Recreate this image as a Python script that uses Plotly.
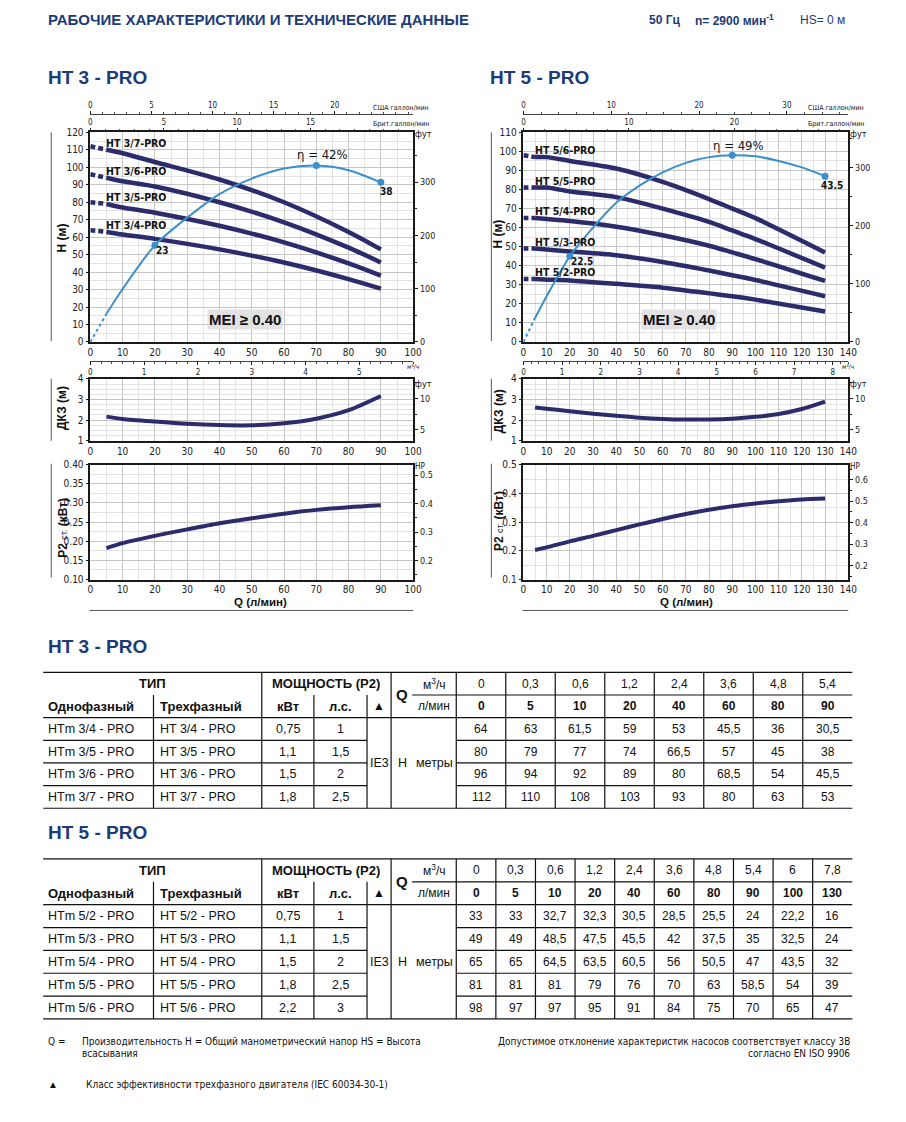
import numpy as np
import plotly.graph_objects as go

# page is rendered with an 8px body margin; small empirical calibration of the capture
OFF = 8
FW, FH = 890, 1104
SX, OX = 0.984, 5.0
SY, OY = 0.991, 4.5
def px(x): return ((x - OX) / SX - OFF) / FW
def py(y): return 1 - ((y - OY) / SY - OFF) / FH

# ---------------- DATA ----------------
Q3 = [0, 5, 10, 20, 40, 60, 80, 90]
Q3_M3H = ["0", "0,3", "0,6", "1,2", "2,4", "3,6", "4,8", "5,4"]
H_HT3_4 = [64, 63, 61.5, 59, 53, 45.5, 36, 30.5]
H_HT3_5 = [80, 79, 77, 74, 66.5, 57, 45, 38]
H_HT3_6 = [96, 94, 92, 89, 80, 68.5, 54, 45.5]
H_HT3_7 = [112, 110, 108, 103, 93, 80, 63, 53]
MODELS3_1PH = ["HTm 3/4 - PRO", "HTm 3/5 - PRO", "HTm 3/6 - PRO", "HTm 3/7 - PRO"]
MODELS3_3PH = ["HT 3/4 - PRO", "HT 3/5 - PRO", "HT 3/6 - PRO", "HT 3/7 - PRO"]
KW3 = ["0,75", "1,1", "1,5", "1,8"]
HP3 = ["1", "1,5", "2", "2,5"]

Q5 = [0, 5, 10, 20, 40, 60, 80, 90, 100, 130]
Q5_M3H = ["0", "0,3", "0,6", "1,2", "2,4", "3,6", "4,8", "5,4", "6", "7,8"]
H_HT5_2 = [33, 33, 32.7, 32.3, 30.5, 28.5, 25.5, 24, 22.2, 16]
H_HT5_3 = [49, 49, 48.5, 47.5, 45.5, 42, 37.5, 35, 32.5, 24]
H_HT5_4 = [65, 65, 64.5, 63.5, 60.5, 56, 50.5, 47, 43.5, 32]
H_HT5_5 = [81, 81, 81, 79, 76, 70, 63, 58.5, 54, 39]
H_HT5_6 = [98, 97, 97, 95, 91, 84, 75, 70, 65, 47]
MODELS5_1PH = ["HTm 5/2 - PRO", "HTm 5/3 - PRO", "HTm 5/4 - PRO", "HTm 5/5 - PRO", "HTm 5/6 - PRO"]
MODELS5_3PH = ["HT 5/2 - PRO", "HT 5/3 - PRO", "HT 5/4 - PRO", "HT 5/5 - PRO", "HT 5/6 - PRO"]
KW5 = ["0,75", "1,1", "1,5", "1,8", "2,2"]
HP5 = ["1", "1,5", "2", "2,5", "3"]

ETA3_Q = [0, 5, 10, 20, 30, 40, 50, 60, 70, 80, 90]
ETA3 = [0, 6.7, 12.6, 23, 29.6, 35.2, 38.9, 41.3, 42, 40.9, 38]
ETA3_MARK_Q = [20, 70, 90]
ETA5_Q = [0, 5, 10, 20, 30, 40, 50, 60, 70, 80, 90, 100, 110, 120, 130]
ETA5 = [0, 6.3, 12, 22.5, 30, 36.5, 41, 44.5, 47, 48.5, 49, 48.7, 47.5, 45.8, 43.5]
ETA5_MARK_Q = [20, 90, 130]

NPSH3_Q = [5, 10, 20, 30, 40, 50, 60, 70, 80, 90]
NPSH3 = [2.17, 2.06, 1.93, 1.82, 1.76, 1.75, 1.85, 2.07, 2.48, 3.17]
P2_3_Q = [5, 10, 20, 30, 40, 50, 60, 70, 80, 90]
P2_3 = [0.182, 0.195, 0.214, 0.231, 0.247, 0.260, 0.272, 0.282, 0.289, 0.294]

NPSH5_Q = [5, 10, 20, 30, 40, 50, 60, 70, 80, 90, 100, 110, 120, 130]
NPSH5 = [2.61, 2.55, 2.43, 2.31, 2.21, 2.12, 2.06, 2.03, 2.03, 2.07, 2.16, 2.30, 2.54, 2.90]
P2_5_Q = [5, 10, 20, 30, 40, 50, 60, 70, 80, 90, 100, 110, 120, 130]
P2_5 = [0.203, 0.212, 0.233, 0.252, 0.272, 0.292, 0.311, 0.328, 0.343, 0.355, 0.365, 0.373, 0.379, 0.382]

# ---------------- STYLE ----------------
NARROW = "Liberation Sans Narrow, DejaVu Sans Condensed, Arial Narrow, sans-serif"
ARIAL = "Liberation Sans, Arial, sans-serif"
NAVY = "#2c2b6c"
BLUE = "#3b8fcb"
AX = "#1a1a1a"
GMAJ = "#c6c6c6"
GMIN = "#e3e3e3"
HEAD = "#1c3b78"
TICKF = dict(family=NARROW, size=10, color="#222")
SMALLF = dict(family=NARROW, size=8, color="#222")

fig = go.Figure()
layout = {}
annotations = []
shapes = []
cnt = {"x": 0, "y": 0}


def newax(kind):
    cnt[kind] += 1
    n = cnt[kind]
    return (kind if n == 1 else f"{kind}{n}"), (f"{kind}axis" if n == 1 else f"{kind}axis{n}")


def dummy(xa, ya, xr, yr):
    fig.add_trace(go.Scatter(x=list(xr), y=list(yr), xaxis=xa, yaxis=ya, mode="markers",
                             marker=dict(opacity=0, size=1), hoverinfo="skip", showlegend=False))


def ann(x, y, text, size=12, family=ARIAL, color="#111", xanchor="center", bold=False, **kw):
    if bold:
        text = f"<b>{text}</b>"
    d = dict(x=px(x), y=py(y), xref="paper", yref="paper", text=text, showarrow=False,
             font=dict(family=family, size=size, color=color), xanchor=xanchor, yanchor="middle")
    d.update(kw)
    annotations.append(d)


def line(x0, y0, x1, y1, color="#111", width=1.2):
    shapes.append(dict(type="line", xref="paper", yref="paper", x0=px(x0), x1=px(x1),
                       y0=py(y0), y1=py(y1), line=dict(color=color, width=width)))


def base_axis(**kw):
    d = dict(showgrid=False, zeroline=False, tickfont=TICKF, tickcolor=AX, fixedrange=True)
    d.update(kw)
    return d


def frame_axis(rng, dtick, mdtick, dom, anchor, **kw):
    d = base_axis(range=rng, dtick=dtick, tick0=0, domain=dom, anchor=anchor,
                  showgrid=True, gridcolor=GMAJ, gridwidth=1,
                  minor=dict(dtick=mdtick, showgrid=True, gridcolor=GMIN, gridwidth=1),
                  showline=True, mirror=True, linecolor=AX, linewidth=1.5,
                  ticks="outside", ticklen=3)
    d.update(kw)
    return d


def side(cfg):
    x0, x1 = cfg["x0"], cfg["x1"]
    qmax = cfg["qmax"]
    xdom = [px(x0), px(x1)]
    # ---- H chart ----
    xQ, kQ = newax("x"); yH, kH = newax("y")
    layout[kQ] = frame_axis([0, qmax], 10, 5, xdom, yH, ticks="")
    layout[kH] = frame_axis([0, cfg["hmax"]], 10, 5, [py(341), py(131)], xQ)
    yF, kF = newax("y")
    layout[kF] = base_axis(overlaying=yH, side="right", anchor=xQ, range=[0, cfg["hmax"] * 3.28084],
                           tickvals=[0, 100, 200, 300], ticks="outside", ticklen=4,
                           minor=dict(dtick=50, ticks="outside", ticklen=3, tickcolor=AX),
                           tickfont=dict(family=NARROW, size=9, color="#222"))
    yE, kE = newax("y")
    layout[kE] = dict(overlaying=yH, visible=False, range=[0, cfg["eta_axis_max"]], anchor=xQ, fixedrange=True)
    xU, kU = newax("x")
    layout[kU] = base_axis(overlaying=xQ, anchor="free", position=py(113), side="top",
                           range=[0, qmax * 0.264172], tickvals=cfg["us_ticks"],
                           ticks="outside", ticklen=3, showline=True, linecolor="#444", linewidth=1,
                           minor=dict(dtick=cfg["us_minor"], tick0=0, ticks="outside", ticklen=2, tickcolor="#444"),
                           tickfont=SMALLF)
    xB, kB = newax("x")
    layout[kB] = base_axis(overlaying=xQ, anchor=yH, side="top",
                           range=[0, qmax * 0.219969], tickvals=cfg["br_ticks"],
                           ticks="outside", ticklen=3,
                           minor=dict(dtick=cfg["br_minor"], tick0=0, ticks="outside", ticklen=2, tickcolor="#444"),
                           tickfont=SMALLF)
    xM, kM = newax("x")
    layout[kM] = base_axis(overlaying=xQ, anchor="free", position=py(360), side="bottom",
                           range=[0, qmax * 0.06], tickvals=cfg["m3_ticks"],
                           ticks="outside", ticklen=3, showline=True, linecolor="#444", linewidth=1,
                           minor=dict(dtick=0.2, tick0=0, ticks="outside", ticklen=2, tickcolor="#444"),
                           tickfont=SMALLF)
    dummy(xU, yH, [0, qmax * 0.264172], [0, 0])
    dummy(xB, yH, [0, qmax * 0.219969], [0, 0])
    dummy(xM, yH, [0, qmax * 0.06], [0, 0])
    dummy(xQ, yF, [0, 0], [0, cfg["hmax"] * 3.28084])

    # H curves
    Q = cfg["Q"]
    for name, hv in cfg["curves"]:
        fig.add_trace(go.Scatter(x=Q[:2], y=hv[:2], xaxis=xQ, yaxis=yH, mode="lines",
                                 line=dict(color=NAVY, width=4.5, dash="5px,3px"),
                                 hoverinfo="skip", showlegend=False))
        fig.add_trace(go.Scatter(x=Q[1:], y=hv[1:], xaxis=xQ, yaxis=yH, mode="lines",
                                 line=dict(color=NAVY, width=4.5, shape="spline", smoothing=0.8),
                                 name=name, showlegend=False))
        annotations.append(dict(x=Q[1], y=hv[1], xref=xQ, yref=yH, text=f"<b>{name.replace(' - ', '-')}</b>",
                                showarrow=False, xanchor="left", yanchor="bottom", yshift=-1, xshift=-2,
                                font=dict(family=NARROW, size=10.5, color="#111")))
    # efficiency
    eq, ev = cfg["eta_q"], cfg["eta"]
    fig.add_trace(go.Scatter(x=eq[:2], y=ev[:2], xaxis=xQ, yaxis=yE, mode="lines",
                             line=dict(color=BLUE, width=2, dash="3px,3px"), hoverinfo="skip", showlegend=False))
    fig.add_trace(go.Scatter(x=eq[1:], y=ev[1:], xaxis=xQ, yaxis=yE, mode="lines",
                             line=dict(color=BLUE, width=2, shape="spline", smoothing=0.8),
                             hoverinfo="skip", showlegend=False))
    mq = cfg["eta_mark"]
    mv = [ev[eq.index(q)] for q in mq]
    fig.add_trace(go.Scatter(x=mq, y=mv, xaxis=xQ, yaxis=yE, mode="markers",
                             marker=dict(color=BLUE, size=7), hoverinfo="skip", showlegend=False))
    peak = max(mv)
    for q, v, (xs, ys) in zip(mq, mv, cfg["eta_shift"]):
        t = f"η = {v:g}%" if v == peak else f"<b>{v:g}</b>"
        sz = 13 if v == peak else 10
        annotations.append(dict(x=q, y=v, xref=xQ, yref=yE, text=t, showarrow=False,
                                xshift=xs, yshift=ys, xanchor="center", yanchor="middle",
                                font=dict(family=NARROW, size=sz, color="#111")))
    annotations.append(dict(x=cfg["mei"][0], y=cfg["mei"][1], xref=xQ, yref=yH, text="<b>MEI ≥ 0.40</b>",
                            showarrow=False, bgcolor="#e2e2e2", borderpad=1,
                            font=dict(family=ARIAL, size=15, color="#111")))

    # ---- NPSH chart ----
    xN, kN = newax("x"); yN, kYN = newax("y")
    layout[kN] = frame_axis([0, qmax], 10, 5, xdom, yN, ticks="")
    layout[kYN] = frame_axis([1, 4], 1, 0.25, [py(440), py(378)], xN)
    yNf, kNf = newax("y")
    layout[kNf] = base_axis(overlaying=yN, side="right", anchor=xN, range=[3.28084, 13.12336],
                            tickvals=[5, 10], ticks="outside", ticklen=4,
                            minor=dict(dtick=2.5, tick0=0, ticks="outside", ticklen=3, tickcolor=AX),
                            tickfont=dict(family=NARROW, size=9, color="#222"))
    dummy(xN, yNf, [0, 0], [3.28084, 13.12336])
    fig.add_trace(go.Scatter(x=cfg["npsh_q"], y=cfg["npsh"], xaxis=xN, yaxis=yN, mode="lines",
                             line=dict(color=NAVY, width=4, shape="spline", smoothing=0.8),
                             hoverinfo="skip", showlegend=False))

    # ---- P2 chart ----
    xP, kP = newax("x"); yP, kYP = newax("y")
    layout[kP] = frame_axis([0, qmax], 10, 5, xdom, yP, ticks="")
    lo, hi = cfg["p2_range"]
    layout[kYP] = frame_axis([lo, hi], cfg["p2_dtick"], cfg["p2_minor"], [py(579), py(464)], xP,
                             tickformat=cfg["p2_fmt"], tick0=0)
    yHP, kHP = newax("y")
    layout[kHP] = base_axis(overlaying=yP, side="right", anchor=xP, range=[lo * 1.341, hi * 1.341],
                            dtick=0.1, tick0=0, tickformat=".1f", ticks="outside", ticklen=4,
                            minor=dict(dtick=0.05, tick0=0, ticks="outside", ticklen=3, tickcolor=AX),
                            tickfont=dict(family=NARROW, size=9, color="#222"))
    dummy(xP, yHP, [0, 0], [lo * 1.341, hi * 1.341])
    fig.add_trace(go.Scatter(x=cfg["p2_q"], y=cfg["p2"], xaxis=xP, yaxis=yP, mode="lines",
                             line=dict(color=NAVY, width=4, shape="spline", smoothing=0.8),
                             hoverinfo="skip", showlegend=False))

    # ---- side texts ----
    tx = cfg["title_x"]
    ann(tx, cfg["h_title_y"], "H (м)", size=12, bold=True, textangle=-90)
    ann(tx, cfg["n_title_y"], "ДКЗ (м)", size=12, bold=True, textangle=-90)
    ann(tx, cfg["p_title_y"], "<b>P2</b> <span style='font-size:9px'>ст.</span> <b>(кВт)</b>", size=12,
        textangle=-90)
    ann(cfg["q_label_x"], 601.5, "Q (л/мин)", size=11.5, bold=True)
    ann(x1 + 10, 133, "фут", size=9, family=NARROW)
    ann(x1 + 10, 383, "фут", size=9, family=NARROW)
    ann(x1 + 7, 466, "HP", size=8, family=NARROW)
    ann(x1 - 12, 107, "США галлон/мин", size=7, family=NARROW)
    ann(x1 - 12, 123, "Брит.галлон/мин", size=7, family=NARROW)
    ann(x1 - 8, 366, "м³/ч", size=6.5, family=NARROW, xanchor="left")
    dx = cfg["deco_x"]
    line(dx, 131, dx, 340, color="#555", width=1)
    line(dx, 378, dx, 440, color="#555", width=1)
    line(dx, 463, dx, 577, color="#555", width=1)
    line(x0 - 1, 610, x1, 610, color="#555", width=1)


side(dict(x0=92, x1=414, qmax=100, hmax=120, Q=Q3,
          curves=[("HT 3/7 - PRO", H_HT3_7), ("HT 3/6 - PRO", H_HT3_6),
                  ("HT 3/5 - PRO", H_HT3_5), ("HT 3/4 - PRO", H_HT3_4)],
          eta_q=ETA3_Q, eta=ETA3, eta_mark=ETA3_MARK_Q, eta_axis_max=120 * 42 / 101,
          eta_shift=[(8, -5), (6, 11), (6, -9)], mei=(48, 13),
          us_ticks=[0, 5, 10, 15, 20], us_minor=1, br_ticks=[0, 5, 10, 15], br_minor=1,
          m3_ticks=[0, 1, 2, 3, 4, 5],
          npsh_q=NPSH3_Q, npsh=NPSH3, p2_q=P2_3_Q, p2=P2_3,
          p2_range=(0.10, 0.40), p2_dtick=0.05, p2_minor=0.025, p2_fmt=".2f",
          title_x=64, h_title_y=237, n_title_y=407, p_title_y=527, q_label_x=262, deco_x=53))

side(dict(x0=524, x1=848, qmax=140, hmax=110, Q=Q5,
          curves=[("HT 5/6 - PRO", H_HT5_6), ("HT 5/5 - PRO", H_HT5_5), ("HT 5/4 - PRO", H_HT5_4),
                  ("HT 5/3 - PRO", H_HT5_3), ("HT 5/2 - PRO", H_HT5_2)],
          eta_q=ETA5_Q, eta=ETA5, eta_mark=ETA5_MARK_Q, eta_axis_max=110 * 49 / 98,
          eta_shift=[(12, -5), (6, 10), (7, -9)], mei=(67, 11.7),
          us_ticks=[0, 10, 20, 30], us_minor=2, br_ticks=[0, 10, 20], br_minor=2,
          m3_ticks=[0, 1, 2, 3, 4, 5, 6, 7, 8],
          npsh_q=NPSH5_Q, npsh=NPSH5, p2_q=P2_5_Q, p2=P2_5,
          p2_range=(0.1, 0.5), p2_dtick=0.1, p2_minor=0.05, p2_fmt=".1f",
          title_x=499, h_title_y=233, n_title_y=410, p_title_y=520, q_label_x=687, deco_x=492))

# ---------------- HEADINGS ----------------
ann(48, 18, "РАБОЧИЕ ХАРАКТЕРИСТИКИ И ТЕХНИЧЕСКИЕ ДАННЫЕ", size=15, bold=True, color=HEAD, xanchor="left")
ann(647, 18, "50 Гц", size=12, bold=True, color=HEAD, xanchor="left")
ann(693, 18, "n= 2900 мин<sup>-1</sup>", size=12, bold=True, color=HEAD, xanchor="left")
ann(798, 18, "HS= 0 м", size=12, color=HEAD, xanchor="left")
ann(48, 76, "HT 3 - PRO", size=19, bold=True, color=HEAD, xanchor="left")
ann(489, 76, "HT 5 - PRO", size=19, bold=True, color=HEAD, xanchor="left")
ann(48, 646, "HT 3 - PRO", size=19, bold=True, color=HEAD, xanchor="left")
ann(48, 832, "HT 5 - PRO", size=19, bold=True, color=HEAD, xanchor="left")


# ---------------- TABLES ----------------
def fmt(v):
    return f"{v:g}".replace(".", ",")


def table(top, rh, qm3h, qlmin, m1, m3, kw, hp, rows):
    n = len(m1)
    ys = [top + i * rh for i in range(3 + n)]
    L, R = 45, 852
    C1, C2, C3, C4, C5, C6, CU = 155, 263, 315, 368, 392, 457, 413
    vb = np.linspace(C6, R, len(qlmin) + 1)
    mid = lambda a, b: (a + b) / 2
    line(L, ys[0], R, ys[0])
    line(CU, ys[1], R, ys[1])
    line(L, ys[2], R, ys[2])
    for i in range(3, 2 + n):
        line(L, ys[i], C4, ys[i])
        line(C6, ys[i], R, ys[i])
    line(L, ys[-1], R, ys[-1])
    for x in (C1, C3, C4):
        line(x, ys[1], x, ys[-1])
    for x in (C2, C5, C6):
        line(x, ys[0], x, ys[-1])
    for x in vb[1:-1]:
        line(x, ys[0], x, ys[-1])
    y01, y12 = mid(ys[0], ys[1]), mid(ys[1], ys[2])
    ann(mid(L, C2), y01, "ТИП", size=13, bold=True)
    ann(mid(C2, C5), y01, "МОЩНОСТЬ (P2)", size=13, bold=True)
    ann(403, ys[1], "Q", size=15, bold=True)
    ann(mid(CU, C6), y01, "м<sup>3</sup>/ч", size=12)
    ann(mid(CU, C6), y12, "л/мин", size=12)
    ann(48, y12, "Однофазный", size=13, bold=True, xanchor="left")
    ann(C1 + 4, y12, "Трехфазный", size=13, bold=True, xanchor="left")
    ann(mid(C2, C3), y12, "кВт", size=13, bold=True)
    ann(mid(C3, C4), y12, "л.с.", size=13, bold=True)
    ann(mid(C4, C5), y12, "▲", size=12)
    for j in range(len(qlmin)):
        cx = mid(vb[j], vb[j + 1])
        ann(cx, y01, qm3h[j], size=12)
        ann(cx, y12, str(qlmin[j]), size=12, bold=True)
    for r in range(n):
        yr = mid(ys[2 + r], ys[3 + r])
        ann(48, yr, m1[r], size=12.5, xanchor="left")
        ann(C1 + 4, yr, m3[r], size=12.5, xanchor="left")
        ann(mid(C2, C3), yr, kw[r], size=12.5)
        ann(mid(C3, C4), yr, hp[r], size=12.5)
        for j, v in enumerate(rows[r]):
            ann(mid(vb[j], vb[j + 1]), yr, fmt(v), size=12)
    ym = mid(ys[2], ys[-1])
    ann(mid(C4, C5), ym, "IE3", size=12.5)
    ann(403, ym, "H", size=12.5)
    ann(mid(CU, C6), ym, "метры", size=12.5)


table(672, 22.7, Q3_M3H, Q3, MODELS3_1PH, MODELS3_3PH, KW3, HP3,
      [H_HT3_4, H_HT3_5, H_HT3_6, H_HT3_7])
table(859, 22.9, Q5_M3H, Q5, MODELS5_1PH, MODELS5_3PH, KW5, HP5,
      [H_HT5_2, H_HT5_3, H_HT5_4, H_HT5_5, H_HT5_6])

# ---------------- FOOTER ----------------
FF = NARROW
ann(48, 1042, "Q =", size=10, family=FF, xanchor="left")
ann(82, 1042, "Производительность H = Общий манометрический напор HS = Высота", size=10, family=FF, xanchor="left")
ann(82, 1054, "всасывания", size=10, family=FF, xanchor="left")
ann(852, 1042, "Допустимое отклонение характеристик насосов соответствует классу 3В", size=10, family=FF,
    xanchor="right")
ann(852, 1054, "согласно EN ISO 9906", size=10, family=FF, xanchor="right")
ann(48, 1085, "▲", size=10, family=ARIAL, xanchor="left")
ann(86, 1085, "Класс эффективности трехфазного двигателя (IEC 60034-30-1)", size=10, family=FF, xanchor="left")

layout.update(dict(width=FW, height=FH, margin=dict(l=0, r=0, t=0, b=0), paper_bgcolor="white",
                   plot_bgcolor="white", showlegend=False, annotations=annotations, shapes=shapes))
fig.update_layout(**layout)
fig.write_html("out.html")
